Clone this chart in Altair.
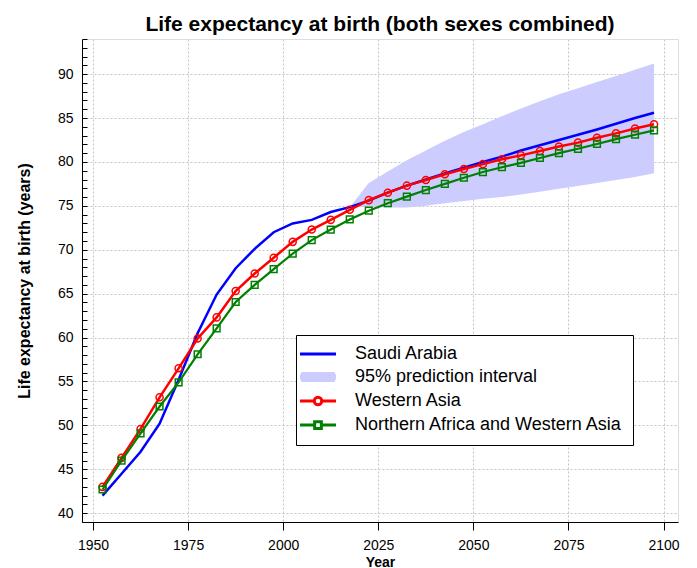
import altair as alt
import pandas as pd

FONT = "Liberation Sans"

# ---- data ----
years = [1952.5, 1957.5, 1962.5, 1967.5, 1972.5, 1977.5, 1982.5, 1987.5, 1992.5, 1997.5,
         2002.5, 2007.5, 2012.5, 2017.5, 2022.5, 2027.5, 2032.5, 2037.5, 2042.5, 2047.5,
         2052.5, 2057.5, 2062.5, 2067.5, 2072.5, 2077.5, 2082.5, 2087.5, 2092.5, 2097.5]

saudi_arabia = [42.0, 44.5, 47.0, 50.2, 55.2, 60.5, 64.9, 67.9, 70.1, 72.0,
                73.0, 73.4, 74.3, 74.85, 75.6, 76.5, 77.3, 78.0, 78.7, 79.35,
                80.0, 80.6, 81.3, 81.9, 82.5, 83.1, 83.7, 84.35, 85.0, 85.6]

western_asia = [43.0, 46.3, 49.6, 53.2, 56.5, 59.9, 62.3, 65.3, 67.3, 69.1,
                70.9, 72.3, 73.4, 74.55, 75.65, 76.5, 77.3, 77.95, 78.6, 79.2,
                79.75, 80.3, 80.75, 81.25, 81.75, 82.2, 82.75, 83.25, 83.8, 84.3]

nafrica_wasia = [42.7, 46.0, 49.1, 52.15, 54.9, 58.1, 61.05, 64.05, 66.0, 67.8,
                 69.55, 71.1, 72.3, 73.45, 74.45, 75.3, 76.05, 76.8, 77.5, 78.2,
                 78.85, 79.4, 79.9, 80.45, 81.0, 81.5, 82.05, 82.6, 83.1, 83.6]

pi_years = [2017.5, 2022.5, 2027.5, 2032.5, 2037.5, 2042.5, 2047.5, 2052.5, 2057.5,
            2062.5, 2067.5, 2072.5, 2077.5, 2082.5, 2087.5, 2092.5, 2097.5]
pi_lower = [74.85, 74.9, 74.8, 74.8, 75.0, 75.3, 75.55, 75.8, 76.0,
            76.3, 76.6, 76.95, 77.25, 77.6, 77.95, 78.3, 78.7]
pi_upper = [74.85, 77.6, 78.9, 80.2, 81.3, 82.4, 83.4, 84.3, 85.2,
            86.1, 86.9, 87.7, 88.4, 89.1, 89.8, 90.5, 91.2]

series_names = ["Saudi Arabia", "95% prediction interval", "Western Asia",
                "Northern Africa and Western Asia"]
series_colors = ["#0000ff", "#ccccff", "#ff0000", "#008000"]

x_ticks = [1950, 1975, 2000, 2025, 2050, 2075, 2100]
y_ticks = [40, 45, 50, 55, 60, 65, 70, 75, 80, 85, 90]
y_minor_ticks = list(range(39, 95))

# legend glyphs (line, band, line+circle, line+square)
legend_paths = [
    "M-2.4,0H2.4",
    "M-2.25,-0.47H2.25M-2.4,-0.16H2.4M-2.4,0.16H2.4M-2.25,0.47H2.25",
    "M-2.4,0H-0.5M0.5,0H2.4M0.5,0A0.5,0.5,0,1,1,-0.5,0A0.5,0.5,0,1,1,0.5,0",
    "M-2.4,0H-0.45M0.45,0H2.4M-0.45,-0.45H0.45V0.45H-0.45Z",
]

# ---- tables ----
long_df = pd.DataFrame({
    "year": years * 3,
    "value": saudi_arabia + western_asia + nafrica_wasia,
    "series": [series_names[0]] * len(years) + [series_names[2]] * len(years)
              + [series_names[3]] * len(years),
})
band_df = pd.DataFrame({"year": pi_years, "lower": pi_lower, "upper": pi_upper})
legend_df = pd.DataFrame({"series": series_names,
                          "year": [years[0]] * 4, "value": [saudi_arabia[0]] * 4})

# ---- scales / axes ----
xscale = alt.Scale(domain=[1947.1, 2103.8], nice=False, zero=False)
yscale = alt.Scale(domain=[39, 94], nice=False, zero=False)
cscale = alt.Scale(domain=series_names, range=series_colors)
sscale = alt.Scale(domain=series_names, range=legend_paths)

x_axis = alt.Axis(values=x_ticks, format="d", title="Year", tickSize=8, tickColor="black",
                  domainColor="black", labelPadding=8, titlePadding=3, grid=True,
                  gridDash=[2, 2], gridColor="#c4c4c4", labelFontSize=14, titleFontSize=14,
                  labelFont=FONT, titleFont=FONT, titleFontWeight="bold",
                  labelColor="black", titleColor="black")
y_axis = alt.Axis(values=y_ticks, orient="left", title="Life expectancy at birth (years)",
                  ticks=False, domainColor="black", labelPadding=9, titlePadding=25,
                  grid=True, gridDash=[2, 2], gridColor="#c4c4c4", labelFontSize=14,
                  titleFontSize=16, labelFont=FONT, titleFont=FONT, titleFontWeight="bold",
                  labelColor="black", titleColor="black")
y_tick_axis = alt.Axis(values=y_minor_ticks, orient="left", offset=-5, tickSize=5,
                       tickColor="black", labels=False, domain=False, grid=False, title=None)

X = alt.X("year:Q", scale=xscale, axis=x_axis)
Y = alt.Y("value:Q", scale=yscale, axis=None)

legend = alt.Legend(title=None, orient="none", legendX=214, legendY=296, symbolSize=225,
                    symbolStrokeWidth=3, symbolOpacity=1, symbolOffset=3, labelOffset=28,
                    symbolFillColor="transparent", labelFontSize=18, labelFont=FONT,
                    labelColor="black", rowPadding=4, padding=10, strokeColor="black",
                    fillColor="white", labelLimit=500)

band = alt.Chart(band_df).mark_area(color=series_colors[1], opacity=1).encode(
    x=X,
    y=alt.Y("lower:Q", scale=yscale, axis=y_tick_axis),
    y2="upper:Q",
)

def only(name):
    return alt.Chart(long_df).transform_filter(alt.datum.series == name)

saudi_line = only(series_names[0]).mark_line(strokeWidth=2.5, color=series_colors[0]).encode(
    x=X,
    y=alt.Y("value:Q", scale=yscale, axis=y_axis),
)
wa_line = only(series_names[2]).mark_line(strokeWidth=2.5, color=series_colors[2]).encode(x=X, y=Y)
na_line = only(series_names[3]).mark_line(strokeWidth=2.2, color=series_colors[3]).encode(x=X, y=Y)

wa_pts = only(series_names[2]).mark_point(
    shape="circle", size=50, strokeWidth=1.5, filled=False, opacity=1,
    color=series_colors[2]).encode(x=X, y=Y)
na_pts = only(series_names[3]).mark_point(
    shape="square", size=45, strokeWidth=1.5, filled=False, opacity=1,
    color=series_colors[3]).encode(x=X, y=Y)

legend_layer = alt.Chart(legend_df).mark_point(filled=False, opacity=0).encode(
    x=X,
    y=Y,
    color=alt.Color("series:N", scale=cscale, legend=legend),
    shape=alt.Shape("series:N", scale=sscale, legend=legend),
)

chart = alt.layer(
    band, saudi_line, wa_line, wa_pts, na_line, na_pts, legend_layer
).resolve_axis(y="independent").properties(
    width=596, height=483,
    padding={"left": 8, "top": 5, "right": 5, "bottom": 5},
    title=alt.Title("Life expectancy at birth (both sexes combined)", font=FONT, fontSize=21,
                    fontWeight="bold", anchor="middle", frame="group", color="black"),
).configure_view(stroke="black", strokeWidth=1).configure(background="white")

chart.save("out.html", embed_options={"renderer": "svg", "actions": False})
